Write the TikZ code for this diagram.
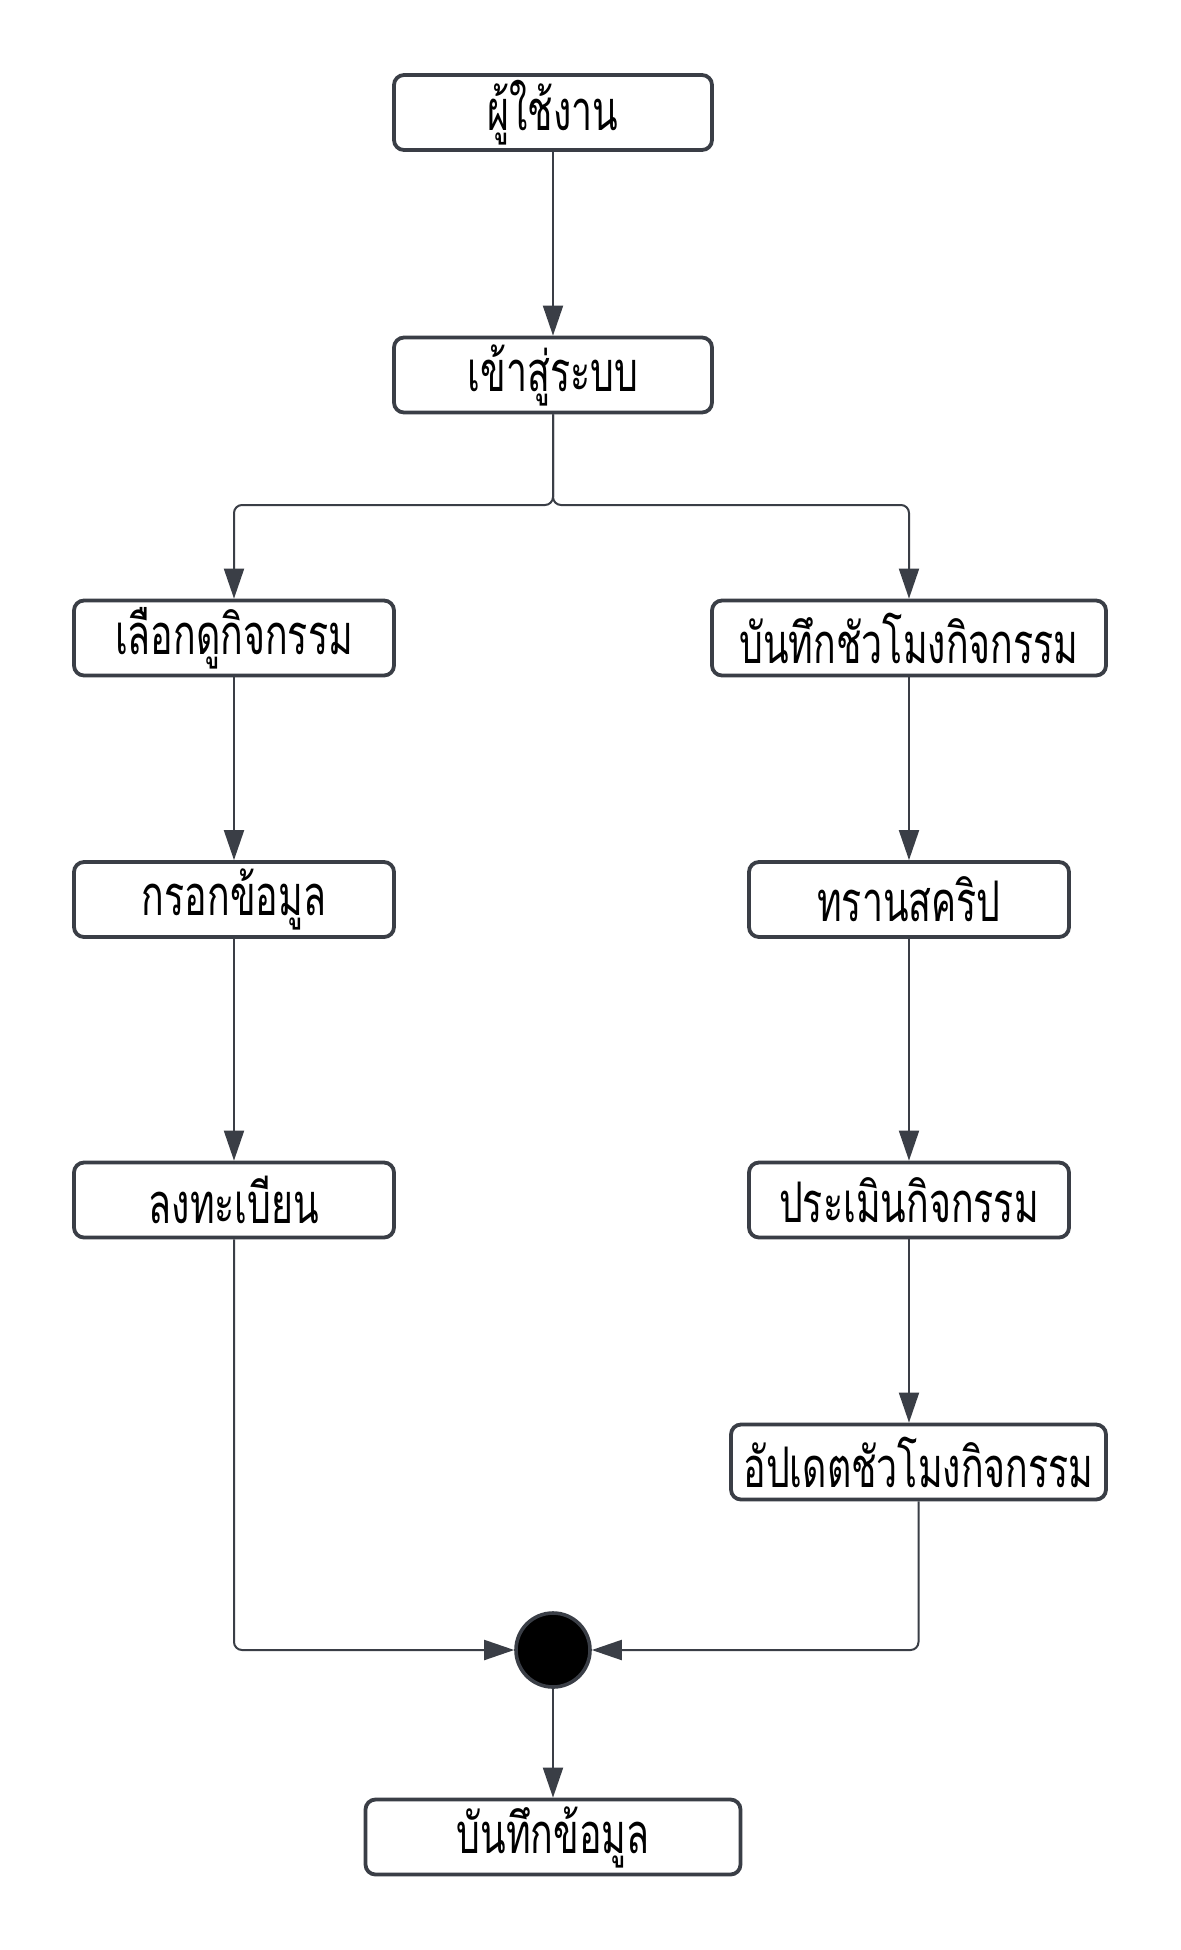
\documentclass[tikz,border=0pt]{standalone}
\usepackage{fontspec}
\newfontfamily\thaifont[Script=Thai,FakeStretch=0.67]{Loma}
\usetikzlibrary{arrows.meta}
\definecolor{edge}{HTML}{3A3E46}
\newcommand{\lbl}[1]{\raisebox{-1.5pt}{#1}}
\begin{document}
\begin{tikzpicture}[x=0.5pt,y=-0.5pt,
  box/.style={draw=edge,line width=1.9pt,rounded corners=5pt,fill=white,
    minimum height=37.5pt,inner sep=0pt,font=\thaifont\fontsize{28}{32}\selectfont},
  conn/.style={draw=edge,line width=1pt,-{Triangle[length=15pt,width=10pt]},rounded corners=4pt}]
\useasboundingbox (0,0) rectangle (1181,1950);
\fill[white] (0,0) rectangle (1181,1950);
\node[box,minimum width=159pt] (user) at (553,112.5) {\lbl{ผู้ใช้งาน}};
\node[box,minimum width=159pt] (login) at (553,375) {\lbl{เข้าสู่ระบบ}};
\node[box,minimum width=160pt] (view) at (234,638) {\lbl{เลือกดูกิจกรรม}};
\node[box,minimum width=197pt] (rec) at (909,638) {\lbl{บันทึกชัวโมงกิจกรรม}};
\node[box,minimum width=160pt] (fill) at (234,899.5) {\lbl{กรอกข้อมูล}};
\node[box,minimum width=160pt] (trans) at (909,899.5) {\lbl{ทรานสคริป}};
\node[box,minimum width=160pt] (reg) at (234,1200) {\lbl{ลงทะเบียน}};
\node[box,minimum width=160pt] (eval) at (909,1200) {\lbl{ประเมินกิจกรรม}};
\node[box,minimum width=187.5pt] (upd) at (918.5,1462) {\lbl{อัปเดตชัวโมงกิจกรรม}};
\node[circle,draw=edge,line width=1.8pt,fill=black,minimum size=37pt,inner sep=0pt] (join) at (553,1650) {};
\node[box,minimum width=187.5pt] (save) at (553,1837) {\lbl{บันทึกข้อมูล}};
\coordinate (split) at (553,505);
\draw[conn] (user) -- (login);
\draw[conn] (login.south) -- (split) -| (view.north);
\draw[conn] (login.south) -- (split) -| (rec.north);
\draw[conn] (view) -- (fill);
\draw[conn] (fill) -- (reg);
\draw[conn] (rec) -- (trans);
\draw[conn] (trans) -- (eval);
\draw[conn] (eval.south) -- (eval.south |- upd.north);
\draw[conn] (reg.south) |- (join.west);
\draw[conn] (upd.south) |- (join.east);
\draw[conn] (join) -- (save);
\end{tikzpicture}
\end{document}
